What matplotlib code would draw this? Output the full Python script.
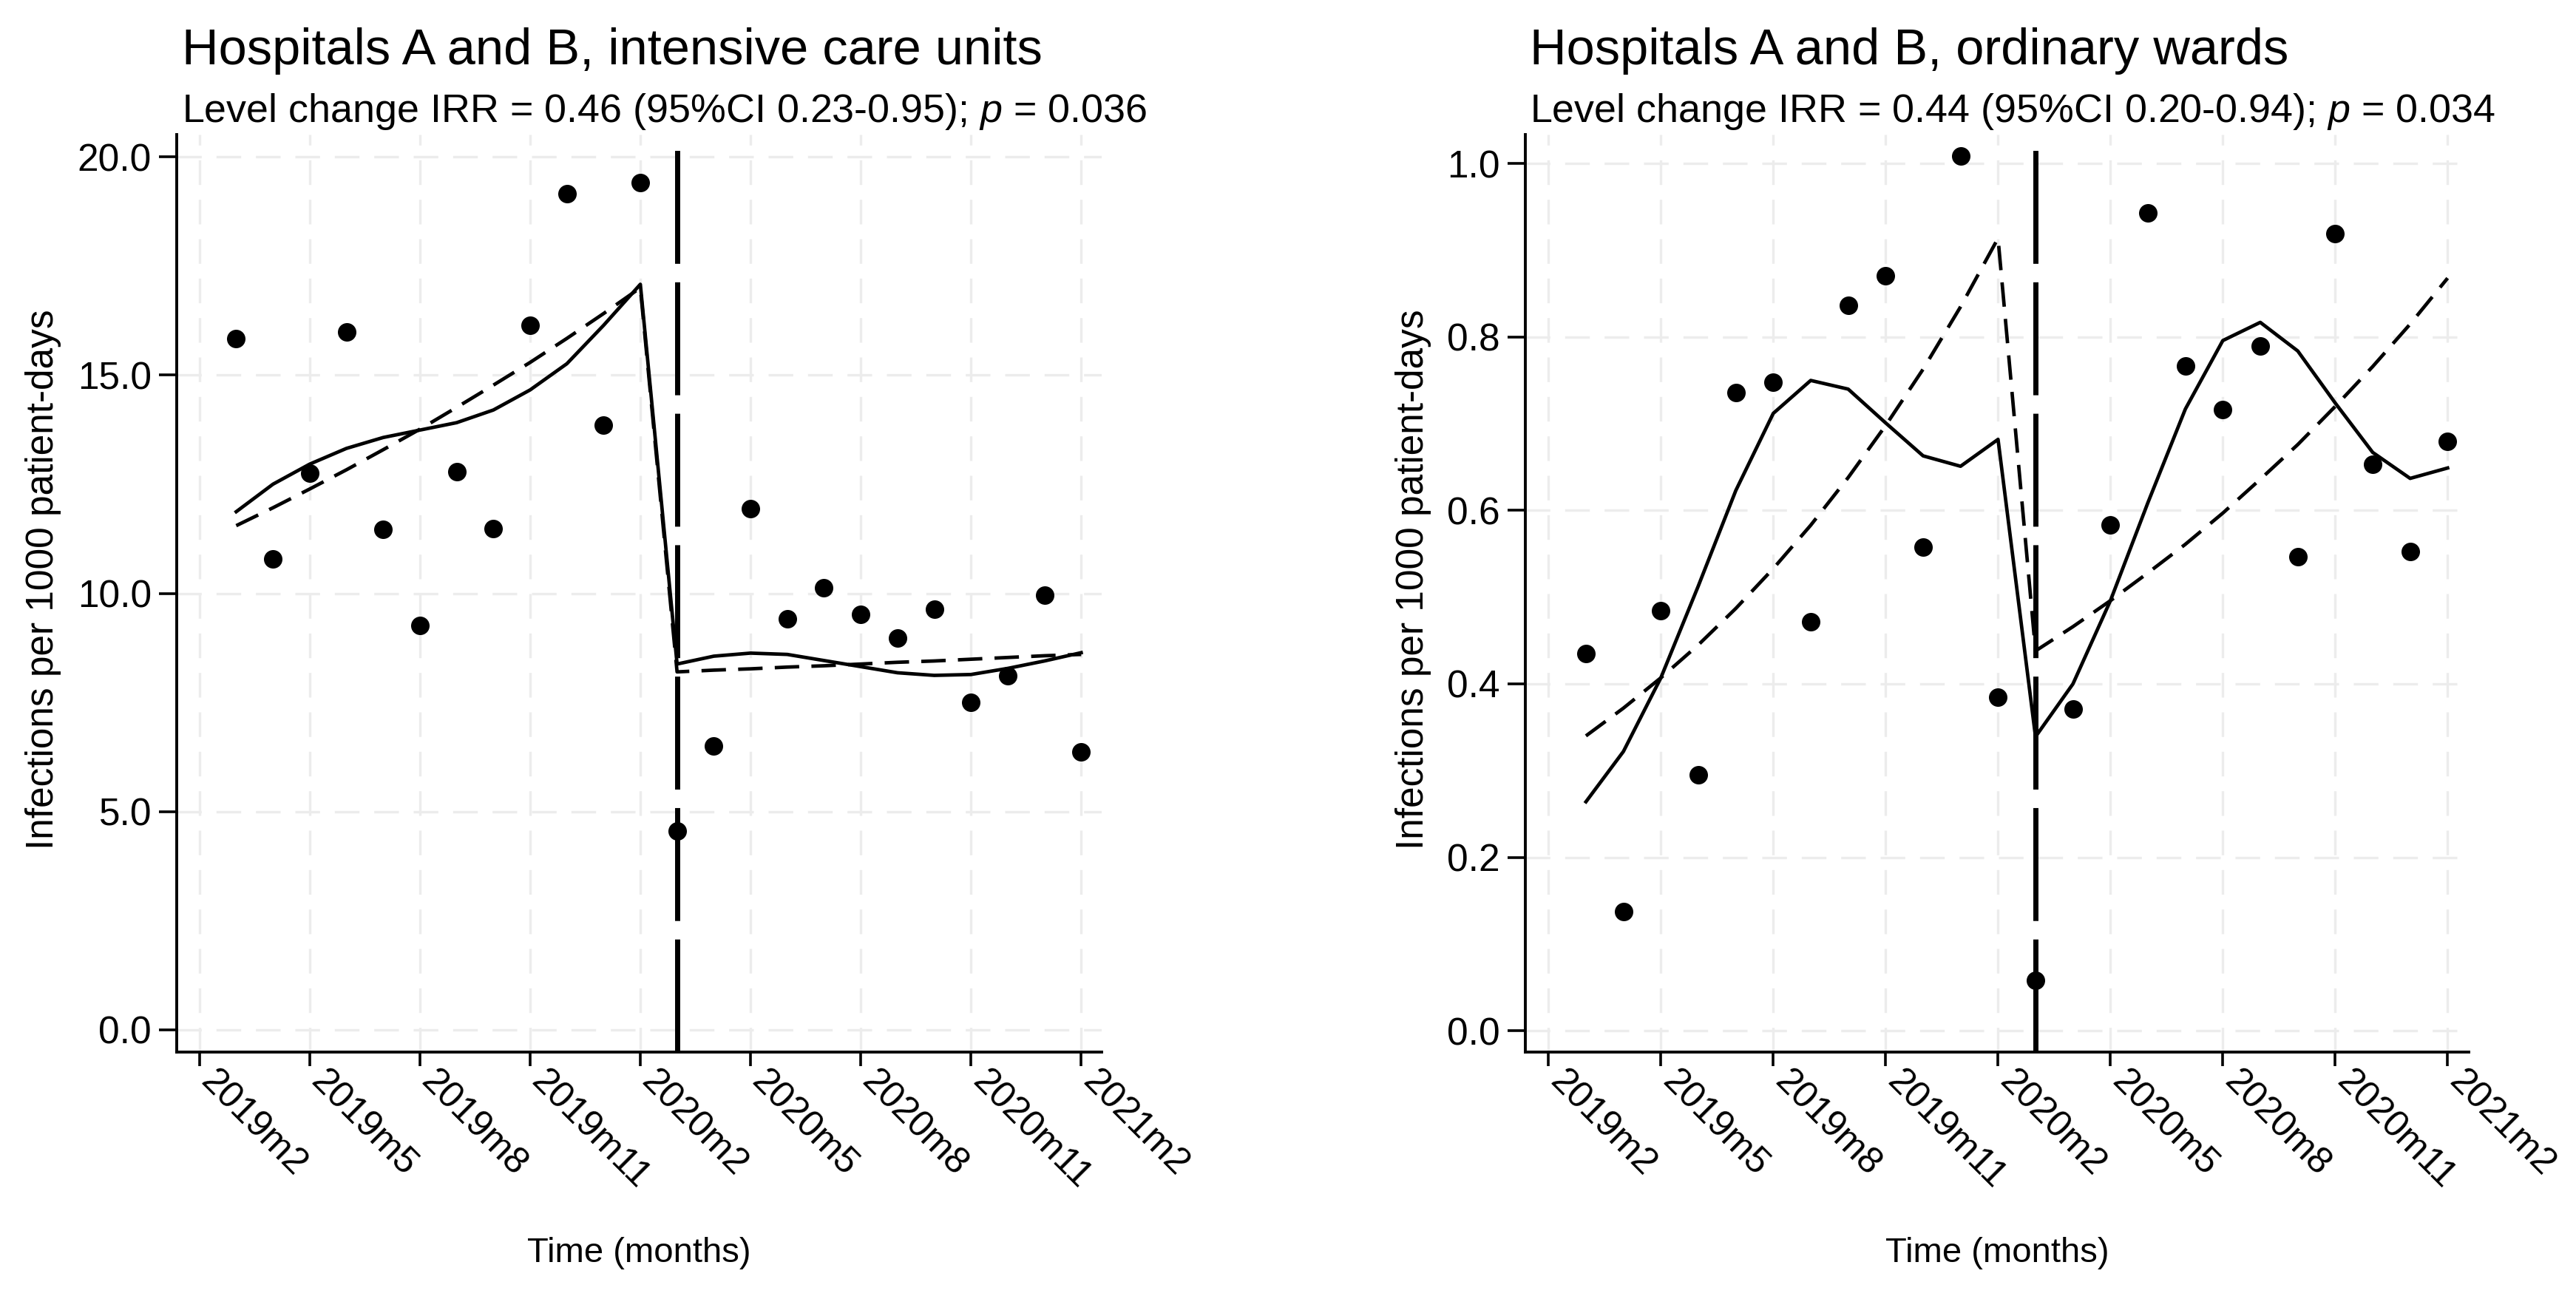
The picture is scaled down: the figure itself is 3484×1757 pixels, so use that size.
import matplotlib
matplotlib.use("Agg")
import matplotlib.pyplot as plt
import matplotlib.transforms as mtransforms
import numpy as np

plt.rcParams["font.family"] = ["Liberation Sans", "DejaVu Sans"]
plt.rcParams["mathtext.fontset"] = "custom"
plt.rcParams["mathtext.rm"] = "Liberation Sans"
plt.rcParams["mathtext.it"] = "Liberation Sans:italic"

# monthly data, 2019m3 .. 2021m2
months = ["2019m3", "2019m4", "2019m5", "2019m6", "2019m7", "2019m8",
          "2019m9", "2019m10", "2019m11", "2019m12", "2020m1", "2020m2",
          "2020m3", "2020m4", "2020m5", "2020m6", "2020m7", "2020m8",
          "2020m9", "2020m10", "2020m11", "2020m12", "2021m1", "2021m2"]
tick_labels = ["2019m2", "2019m5", "2019m8", "2019m11", "2020m2",
               "2020m5", "2020m8", "2020m11", "2021m2"]
intervention = "2020m3"

icu_observed = [15.83, 10.78, 12.76, 15.98, 11.46, 9.26, 12.78, 11.48,
                16.14, 19.16, 13.85, 19.41,
                4.56, 6.50, 11.94, 9.41, 10.12, 9.51, 8.98, 9.64,
                7.51, 8.12, 9.96, 6.37]
icu_fitted = [11.87, 12.50, 12.96, 13.32, 13.57, 13.74, 13.91, 14.20,
              14.66, 15.26, 16.14, 17.08,
              8.38, 8.56, 8.63, 8.60, 8.46, 8.32, 8.18, 8.12,
              8.14, 8.28, 8.45, 8.64]
icu_trend = [11.55, 11.96, 12.39, 12.83, 13.29, 13.76, 14.26, 14.77,
             15.29, 15.84, 16.41, 17.00,
             8.20, 8.24, 8.27, 8.31, 8.34, 8.38, 8.42, 8.45,
             8.49, 8.53, 8.57, 8.60]

ward_observed = [0.435, 0.137, 0.484, 0.295, 0.736, 0.748, 0.472, 0.837,
                 0.871, 0.558, 1.009, 0.385,
                 0.058, 0.371, 0.583, 0.943, 0.767, 0.716, 0.790, 0.547,
                 0.919, 0.653, 0.553, 0.680]
ward_fitted = [0.264, 0.322, 0.407, 0.513, 0.623, 0.712, 0.750, 0.740,
               0.701, 0.663, 0.651, 0.682,
               0.339, 0.400, 0.496, 0.609, 0.717, 0.796, 0.817, 0.784,
               0.724, 0.667, 0.637, 0.649]
ward_trend = [0.340, 0.372, 0.407, 0.445, 0.487, 0.533, 0.583, 0.638,
              0.698, 0.763, 0.835, 0.914,
              0.438, 0.466, 0.496, 0.528, 0.561, 0.597, 0.636, 0.676,
              0.720, 0.766, 0.815, 0.868]


def month_num(s):
    y, m = s.split("m")
    return (int(y) - 2019) * 12 + int(m) - 1


x = np.array([month_num(m) for m in months])
xt = [month_num(m) for m in tick_labels]
x_int = month_num(intervention)

panels = [
    dict(obs=icu_observed, fit=icu_fitted, trend=icu_trend,
         title="Hospitals A and B, intensive care units",
         sub=r"Level change IRR = 0.46 (95%CI 0.23-0.95); $\it{p}$ = 0.036",
         yticks=[0, 5, 10, 15, 20], ylim=(-0.51, 20.51),
         rect=[0.0686, 0.1901, 0.3591, 0.7063], tx=0.0706, ylx=-0.144),
    dict(obs=ward_observed, fit=ward_fitted, trend=ward_trend,
         title="Hospitals A and B, ordinary wards",
         sub=r"Level change IRR = 0.44 (95%CI 0.20-0.94); $\it{p}$ = 0.034",
         yticks=[0, 0.2, 0.4, 0.6, 0.8, 1.0], ylim=(-0.0247, 1.0336),
         rect=[0.5921, 0.1901, 0.3662, 0.7063], tx=0.5939, ylx=-0.119),
]

fig = plt.figure(figsize=(17.42, 8.785), dpi=200)
shift = mtransforms.ScaledTranslation(0.045, -0.01, fig.dpi_scale_trans)

for p in panels:
    ax = fig.add_axes(p["rect"])
    ax.plot(x, p["fit"], color="black", lw=1.7, zorder=3)
    ax.plot(x, p["trend"], color="black", lw=1.7, ls=(0, (7, 3.5)), zorder=3)
    ax.plot(x, p["obs"], "o", color="black", ms=8, zorder=4)
    ax.axvline(x_int, color="black", lw=2.5, ls=(0, (22, 3.6)), zorder=2)

    ax.set_xlim(xt[0] - 0.62, xt[-1] + 0.56)
    ax.set_ylim(*p["ylim"])
    ax.set_xticks(xt)
    ax.set_xticklabels(tick_labels)
    ax.set_yticks(p["yticks"])
    ax.set_yticklabels(["%.1f" % v for v in p["yticks"]])

    ax.grid(True, color="#ececec", lw=1.2, ls=(0, (10, 6)))
    ax.set_axisbelow(True)
    for s in ["top", "right"]:
        ax.spines[s].set_visible(False)
    for s in ["left", "bottom"]:
        ax.spines[s].set_linewidth(1.4)

    ax.tick_params(axis="y", direction="out", length=8.6, width=1.3,
                   pad=3.6, labelsize=18.5)
    ax.tick_params(axis="x", direction="out", length=7, width=1.3,
                   pad=4, labelsize=18)
    for lab in ax.get_xticklabels():
        lab.set_rotation(-45)
        lab.set_ha("left")
        lab.set_va("center")
        lab.set_rotation_mode("anchor")
        lab.set_transform(lab.get_transform() + shift)

    ax.set_xlabel("Time (months)", fontsize=17)
    ax.xaxis.set_label_coords(0.5, -0.219)
    ax.xaxis.label.set_va("center")
    ax.set_ylabel("Infections per 1000 patient-days", fontsize=18.5)
    ax.yaxis.set_label_coords(p["ylx"], 0.515)
    ax.yaxis.label.set_va("center")

    fig.text(p["tx"], 0.9505, p["title"], fontsize=24.7, va="baseline")
    fig.text(p["tx"], 0.9061, p["sub"], fontsize=19.4, va="baseline")

fig.savefig("out.png", dpi=200)
